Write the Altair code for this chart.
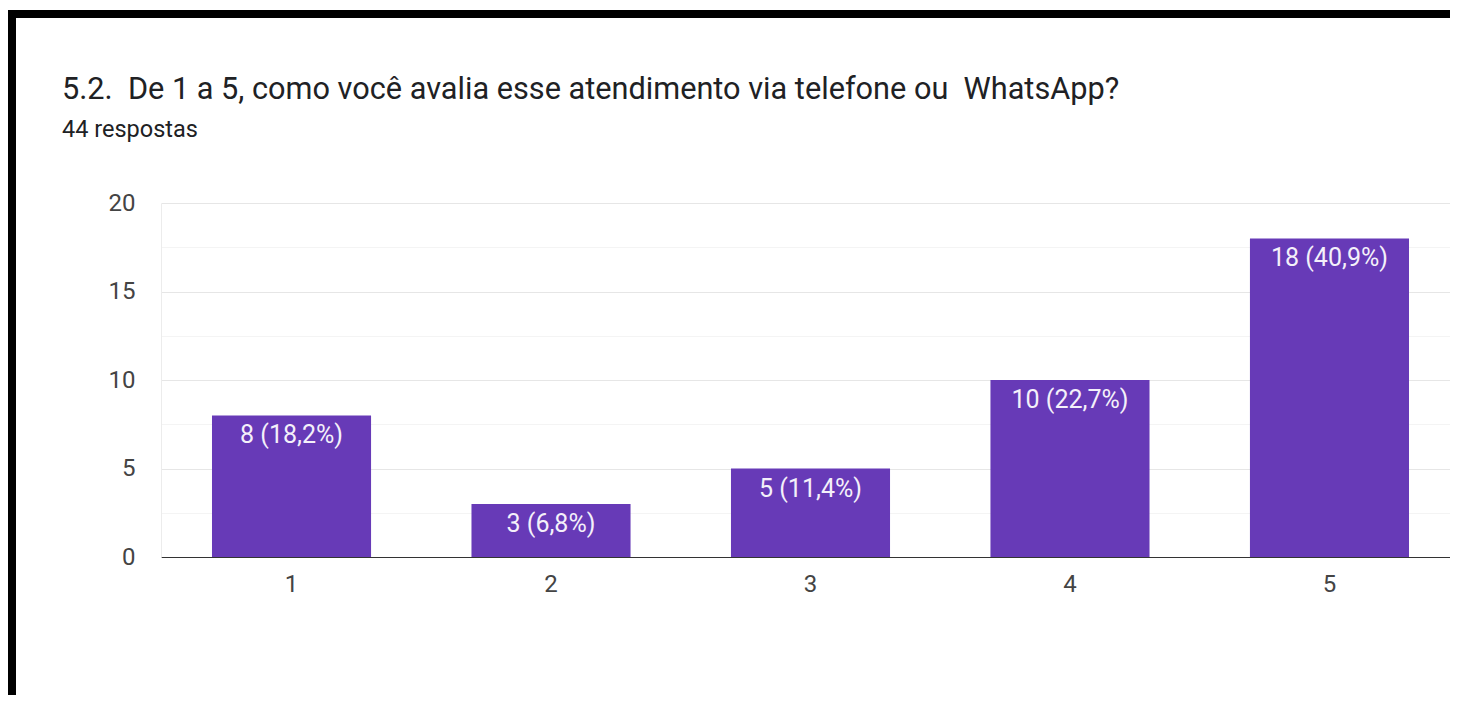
import altair as alt
import pandas as pd

categories = ["1", "2", "3", "4", "5"]
counts = [8, 3, 5, 10, 18]
total = 44

title_text = "5.2.\u00a0 De 1 a 5, como você avalia esse atendimento via telefone ou\u00a0 WhatsApp?"
subtitle_text = f"{total} respostas"

labels = [f"{c} ({(100 * c / total):.1f}%)".replace(".", ",") for c in counts]
df = pd.DataFrame({"nota": categories, "count": counts, "label": labels})

W, H = 1289, 354
PL, PT, PB = 153, 195, 138

base = alt.Chart(df)

bars = base.mark_bar(color="#673ab7").encode(
    x=alt.X("nota:N", sort=categories,
            scale=alt.Scale(range=[0, 1299], paddingInner=0.387, paddingOuter=0.1965),
            axis=alt.Axis(labelAngle=0, title=None, ticks=False, labelPadding=15,
                          domainColor="#333333", domainWidth=1.2,
                          labelFont="Roboto", labelFontSize=24, labelColor="#444444")),
    y=alt.Y("count:Q", scale=alt.Scale(domain=[0, 20], nice=False),
            axis=alt.Axis(values=[0, 2.5, 5, 7.5, 10, 12.5, 15, 17.5, 20], title=None,
                          ticks=False, labelPadding=26,
                          labelExpr="datum.value % 5 === 0 ? datum.label : ''",
                          gridColor={"condition": {"test": "datum.value % 5 === 0", "value": "#e6e6e6"},
                                     "value": "#f4f4f4"},
                          domainColor="#ececec",
                          labelFont="Roboto", labelFontSize=24, labelColor="#444444")),
)

text = base.mark_text(color="#f4f0fa", baseline="top", dy=8, font="Roboto", fontSize=25).encode(
    x=alt.X("nota:N", sort=categories),
    y=alt.Y("count:Q"),
    text="label:N",
)

one = alt.Data(values=[{"k": 0}])

title_mark = alt.Chart(one).mark_text(
    align="left", baseline="alphabetic", font="Roboto", fontSize=30.7, color="#202124"
).encode(x=alt.value(-99), y=alt.value(-104), text=alt.value(title_text))

subtitle_mark = alt.Chart(one).mark_text(
    align="left", baseline="alphabetic", font="Roboto", fontSize=23.5, color="#202124"
).encode(x=alt.value(-99), y=alt.value(-66), text=alt.value(subtitle_text))

frame_left = alt.Chart(one).mark_rect(color="black").encode(
    x=alt.value(-PL), x2=alt.value(-PL + 8),
    y=alt.value(-PT + 2), y2=alt.value(H + PB),
)
frame_top = alt.Chart(one).mark_rect(color="black").encode(
    x=alt.value(-PL), x2=alt.value(W + 20),
    y=alt.value(-PT + 2), y2=alt.value(-PT + 10),
)

chart = alt.layer(bars, text, title_mark, subtitle_mark, frame_left, frame_top).properties(
    width=W, height=H,
    autosize=alt.AutoSizeParams(type="none"),
    padding={"left": PL, "top": PT, "right": 0, "bottom": PB},
    background="white",
).configure_view(stroke="transparent")

chart.save("out.html", embed_options={"renderer": "svg", "actions": False})
